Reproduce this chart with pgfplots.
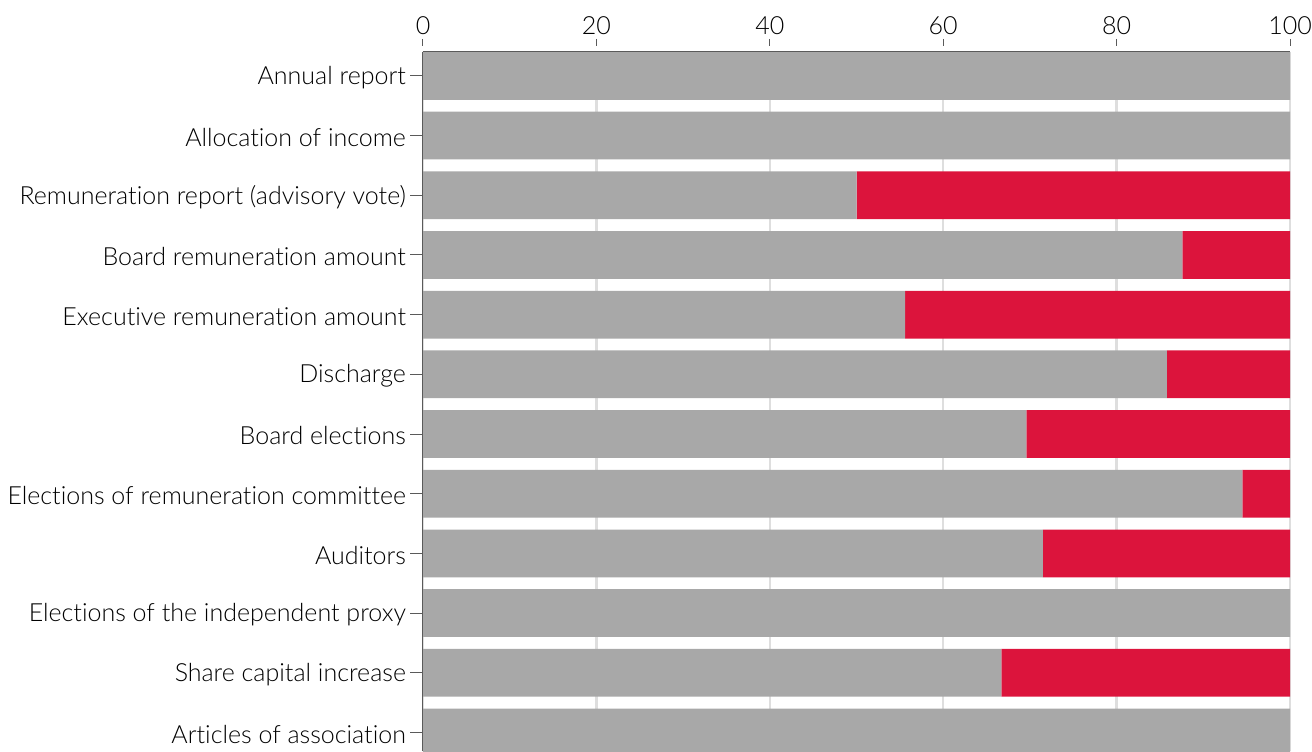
\documentclass[border=0pt]{standalone}
\usepackage{fontspec}
\setmainfont{Lato}[UprightFont=* Light, Ligatures={NoCommon,NoContextual}]
\usepackage{pgfplots}
\pgfplotsset{compat=1.18}
\definecolor{bargray}{RGB}{168,168,168}
\definecolor{barred}{RGB}{220,20,60}
\definecolor{axgray}{RGB}{90,90,90}
\definecolor{gridgray}{RGB}{222,222,222}
\pgfplotsset{
  layers/mylayers/.define layer set={
    axis background,axis grid,main,axis ticks,axis lines,axis tick labels,axis descriptions,axis foreground
  }{/pgfplots/layers/standard},
}
\begin{document}
\begin{tikzpicture}
\begin{axis}[
  set layers=mylayers,
  at={(0,0)}, anchor=south west,
  scale only axis,
  width=433.5pt, height=349.5pt,
  xbar stacked, bar width=0.8,
  xmin=0, xmax=100,
  ymin=-0.4, ymax=11.31,
  y dir=reverse,
  axis x line=top, axis y line=left,
  axis line style={-, draw=axgray, line width=0.5pt},
  xtick={0,20,40,60,80,100},
  ytick={0,...,11},
  yticklabels={Annual report, Allocation of income, Remuneration report (advisory vote), Board remuneration amount, Executive remuneration amount, Discharge, Board elections, Elections of remuneration committee, Auditors, Elections of the independent proxy, Share capital increase, Articles of association},
  xmajorgrids, grid style={gridgray, line width=1.2pt},
  major tick length=6.5pt,
  tick style={draw=axgray, line width=0.5pt},
  xtick style={dash pattern=on 3.5pt off 20pt},
  tick align=outside,
  xticklabel style={font=\fontsize{12.5}{14}\selectfont, yshift=-1.2pt},
  yticklabel style={font=\fontsize{12.5}{14}\selectfont, xshift=1.5pt, yshift=-0.8pt},
  /pgf/number format/assume math mode=true,
  clip=true,
]
\addplot[fill=bargray, draw=none] coordinates {
(100,0) (100,1) (50,2) (87.6,3) (55.6,4) (85.8,5) (69.6,6) (94.5,7) (71.5,8) (100,9) (66.7,10) (100,11)};
\addplot[fill=barred, draw=none] coordinates {
(0,0) (0,1) (50,2) (12.4,3) (44.4,4) (14.2,5) (30.4,6) (5.5,7) (28.5,8) (0,9) (33.3,10) (0,11)};
\end{axis}
\pgfresetboundingbox
\useasboundingbox (-211.5pt,0) rectangle (444.5pt,375.5pt);
\end{tikzpicture}
\end{document}
